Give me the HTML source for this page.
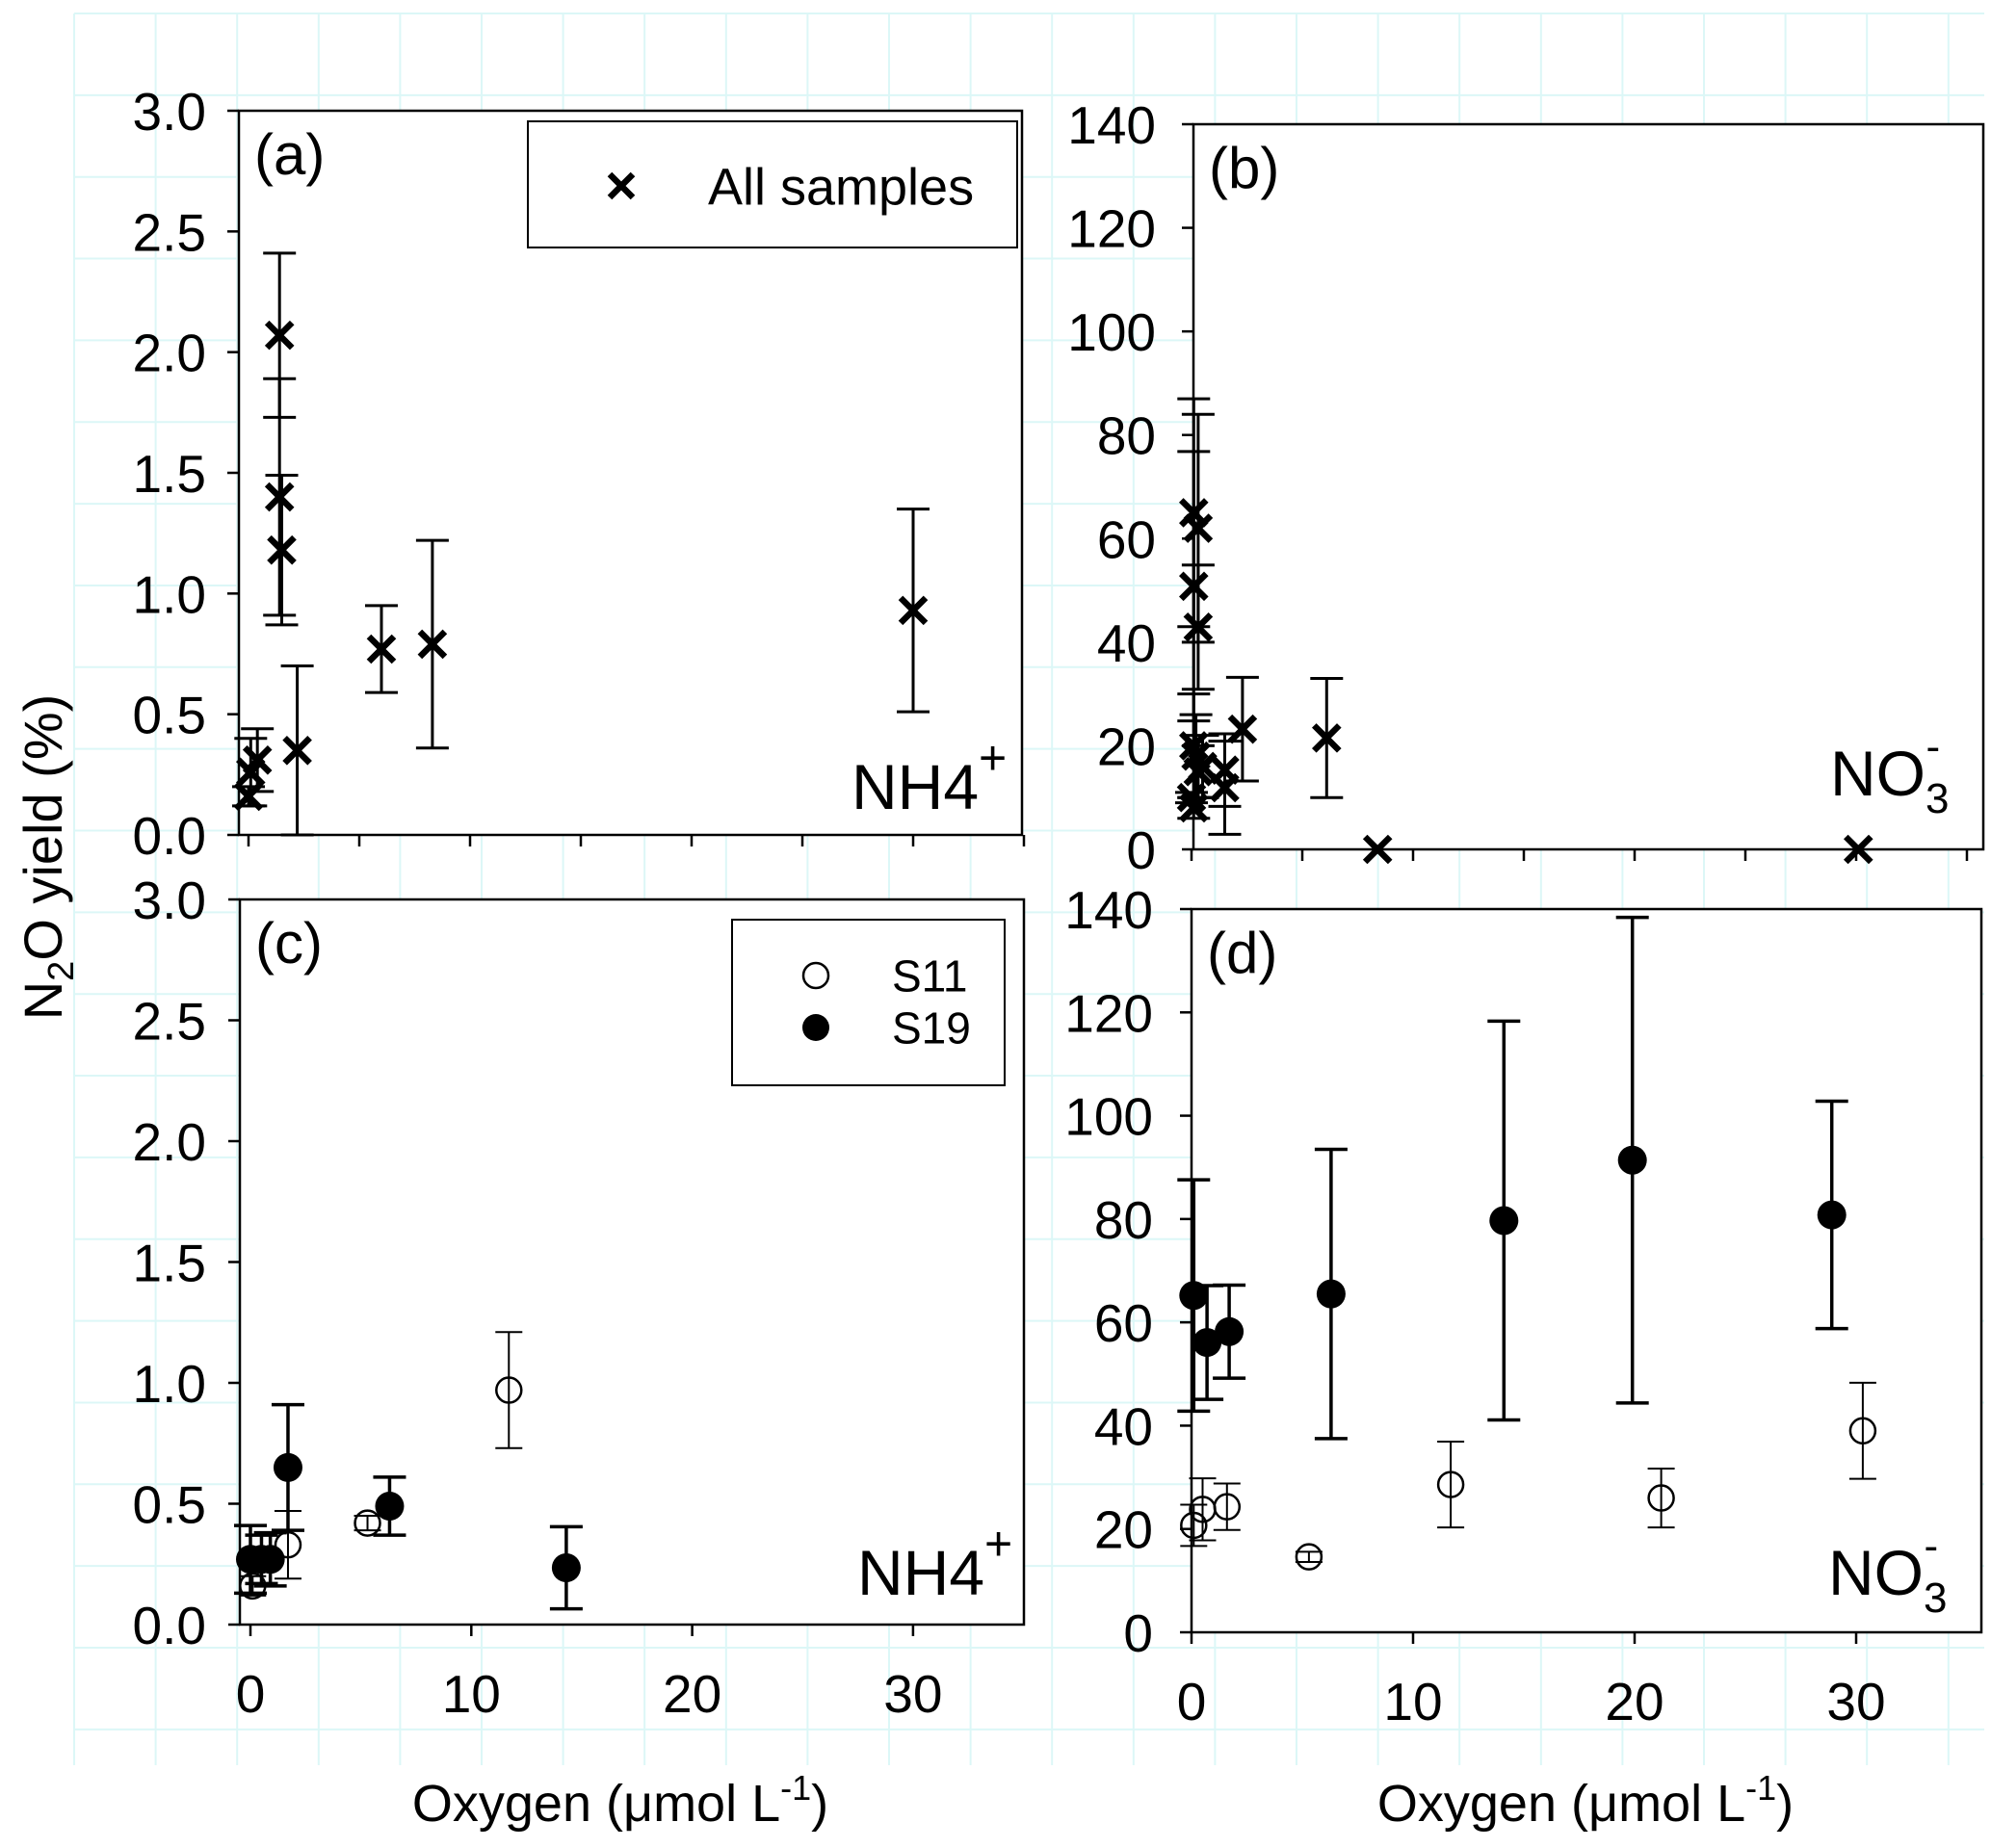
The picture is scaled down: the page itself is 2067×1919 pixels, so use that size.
<!DOCTYPE html>
<html><head><meta charset="utf-8">
<style>
html,body{margin:0;padding:0;background:#fff;}
svg{display:block;font-family:"Liberation Sans",Arial,sans-serif;}
</style></head>
<body>
<svg id="fig" width="2067" height="1919" viewBox="0 0 2067 1919" xmlns="http://www.w3.org/2000/svg">
<g id="grid"></g>
<text transform="translate(64,890) rotate(-90)" text-anchor="middle" font-size="56">N<tspan font-size="38" dy="12">2</tspan><tspan dy="-12">O yield (%)</tspan></text>
<text x="644" y="1891" text-anchor="middle" font-size="54">Oxygen (μmol L<tspan font-size="36" dy="-22">-1</tspan><tspan dy="22">)</tspan></text>
<text x="1646" y="1891" text-anchor="middle" font-size="54">Oxygen (μmol L<tspan font-size="36" dy="-22">-1</tspan><tspan dy="22">)</tspan></text>
</svg>
<script>
// Panel (a): NH4+ all samples
const aX = [0.0, 0.1, 0.4, 1.4, 1.4, 1.5, 2.2, 6.0, 8.3, 30.0];
const aY = [0.16, 0.26, 0.31, 2.07, 1.40, 1.18, 0.35, 0.77, 0.79, 0.93];
const aE = [0.04, 0.14, 0.13, 0.34, 0.49, 0.31, 0.35, 0.18, 0.43, 0.42];
// Panel (b): NO3- all samples
const bX = [0.1, 0.3, 0.1, 0.3, 0.1, 0.2, 0.3, 0.0, 0.1, 0.5, 1.5, 1.5, 2.3, 6.1, 8.4, 30.1];
const bY = [65, 62, 50.8, 42.9, 20, 18, 15, 10, 8, 16, 15.3, 11.9, 23.2, 21.5, 0, 0];
const bE = [22, 22, 26, 12, 10, 8, 5, 1, 2, 6, 7, 9, 10, 11.5, 0, 0];
// Panel (c): NH4+ S11 / S19
const cS11X = [0.1, 1.7, 5.3, 11.7];
const cS11Y = [0.16, 0.33, 0.42, 0.97];
const cS11E = [0.04, 0.14, 0.03, 0.24];
const cS19X = [0.0, 0.5, 0.9, 1.7, 6.3, 14.3];
const cS19Y = [0.27, 0.27, 0.27, 0.65, 0.49, 0.235];
const cS19E = [0.14, 0.10, 0.11, 0.26, 0.12, 0.17];
// Panel (d): NO3- S11 / S19
const dS11X = [0.1, 0.5, 1.6, 5.3, 11.7, 21.2, 30.3];
const dS11Y = [20.7, 23.8, 24.3, 14.6, 28.6, 26, 39];
const dS11E = [4, 6, 4.5, 1, 8.3, 5.7, 9.3];
const dS19X = [0.1, 0.7, 1.7, 6.3, 14.1, 19.9, 28.9];
const dS19Y = [65.2, 56.1, 58.2, 65.5, 79.7, 91.4, 80.8];
const dS19E = [22.4, 11, 9, 28, 38.6, 47, 22];
// Tick labels
const nh4Ticks = ["0.0","0.5","1.0","1.5","2.0","2.5","3.0"];
const no3Ticks = ["0","20","40","60","80","100","120","140"];
const xTicks = ["0","10","20","30"];

const NS = "http://www.w3.org/2000/svg";
const svg = document.getElementById('fig');
function mk(tag, attrs, parent){
  const e = document.createElementNS(NS, tag);
  for (const k in attrs) e.setAttribute(k, attrs[k]);
  (parent||svg).appendChild(e);
  return e;
}

const grid = document.getElementById('grid');
for (let x = 77; x < 2060; x += 84.6) {
  const l = mk('line', {x1:x, y1:14, x2:x, y2:1833, stroke:'#dcf7f7', 'stroke-width':2}, grid);
  
  
}
for (let y = 14; y < 1840; y += 84.85) {
  const l = mk('line', {x1:77, y1:y, x2:2060, y2:y, stroke:'#dcf7f7', 'stroke-width':2}, grid);
  
  
}

function panel(cfg){
  const g = mk('g', {});
  
  
  const sx = v => cfg.x0 + v * cfg.kx;
  const sy = v => cfg.y0 - v * (cfg.y0 - cfg.yTop) / cfg.yMax;
  const box = mk('rect', {x:cfg.left, y:cfg.yTop, width:cfg.right-cfg.left, height:cfg.y0-cfg.yTop, fill:'#fff', stroke:'#000', 'stroke-width':2.5}, g);
  
  
  cfg.yTicks.forEach((t, i) => {
    const v = i * cfg.yMax / (cfg.yTicks.length - 1);
    const y = sy(v);
    const tk = mk('line', {x1:cfg.left-12, y1:y, x2:cfg.left, y2:y, stroke:'#000', 'stroke-width':2.5}, g);
    
    
    const tx = mk('text', {x:cfg.labelRight, y:y+20, 'text-anchor':'end', 'font-size':55}, g);
    tx.textContent = t;
    
    
  });
  for (let v = 0; v <= 35; v += cfg.xStep) {
    const x = sx(v);
    if (x > cfg.right + 2) break;
    const tk = mk('line', {x1:x, y1:cfg.y0, x2:x, y2:cfg.y0+12, stroke:'#000', 'stroke-width':2.5}, g);
    
    
  }
  if (cfg.xLabels) {
    xTicks.forEach(t => {
      const tx = mk('text', {x:sx(+t), y:cfg.xLabelY, 'text-anchor':'middle', 'font-size':55}, g);
      tx.textContent = t;
      
      
    });
  }
  const pl = mk('text', {x:cfg.left+16, y:cfg.yTop+66, 'font-size':60}, g);
  pl.textContent = cfg.letter;
  
  
  const sp = mk('text', {x:cfg.spX, y:cfg.spY, 'font-size':66}, g);
  
  
  if (cfg.species === 'NH4') {
    sp.innerHTML = 'NH4<tspan font-size="50" dy="-36">+</tspan>';
  } else {
    sp.innerHTML = 'NO<tspan font-size="44" dy="18">3</tspan><tspan font-size="44" dy="-54" dx="-24">-</tspan>';
  }
  cfg.series.forEach(s => {
    const sg = mk('g', {}, g);
    
    
    s.X.forEach((xv, i) => {
      const cx = sx(xv), cy = sy(s.Y[i]), e = s.E[i];
      if (e > 0) {
        const yt = sy(s.Y[i] + e), yb = sy(Math.max(0, s.Y[i] - e));
        const eb = mk('path', {d:`M${cx},${yt}V${yb}M${cx-s.cap},${yt}H${cx+s.cap}M${cx-s.cap},${yb}H${cx+s.cap}`, stroke:'#000', 'stroke-width':s.ew, fill:'none'}, sg);
        
        
      }
      let m;
      if (s.marker === 'x') {
        const r = 13;
        m = mk('path', {d:`M${cx-r},${cy-r}L${cx+r},${cy+r}M${cx-r},${cy+r}L${cx+r},${cy-r}`, stroke:'#000', 'stroke-width':6.5, fill:'none'}, sg);
      } else if (s.marker === 'filled') {
        m = mk('circle', {cx:cx, cy:cy, r:15, fill:'#000'}, sg);
      } else {
        m = mk('circle', {cx:cx, cy:cy, r:13, fill:'none', stroke:'#000', 'stroke-width':2.5}, sg);
      }
      
      
    });
  });
  return g;
}

panel({name:'panel-a', letter:'(a)', left:248, right:1061, x0:258, kx:23, y0:867, yTop:115, yMax:3,
  yTicks:nh4Ticks, labelRight:214, xStep:5, xLabels:false, species:'NH4', spX:884, spY:840,
  series:[{name:'series-all-samples', X:aX, Y:aY, E:aE, marker:'x', cap:17, ew:3}]});
panel({name:'panel-b', letter:'(b)', left:1239, right:2059, x0:1237, kx:23.0, y0:882, yTop:129, yMax:140,
  yTicks:no3Ticks, labelRight:1200, xStep:5, xLabels:false, species:'NO3', spX:1900, spY:826,
  series:[{name:'series-all-samples', X:bX, Y:bY, E:bE, marker:'x', cap:17, ew:3}]});
panel({name:'panel-c', letter:'(c)', left:249, right:1063, x0:260, kx:22.93, y0:1687, yTop:934, yMax:3,
  yTicks:nh4Ticks, labelRight:214, xStep:10, xLabels:true, xLabelY:1778, species:'NH4', spX:890, spY:1656,
  series:[{name:'series-s11', X:cS11X, Y:cS11Y, E:cS11E, marker:'open', cap:14, ew:2},
          {name:'series-s19', X:cS19X, Y:cS19Y, E:cS19E, marker:'filled', cap:17, ew:3.5}]});
panel({name:'panel-d', letter:'(d)', left:1237, right:2057, x0:1237, kx:23.0, y0:1695, yTop:944, yMax:140,
  yTicks:no3Ticks, labelRight:1197, xStep:10, xLabels:true, xLabelY:1786, species:'NO3', spX:1898, spY:1656,
  series:[{name:'series-s11', X:dS11X, Y:dS11Y, E:dS11E, marker:'open', cap:14, ew:2},
          {name:'series-s19', X:dS19X, Y:dS19Y, E:dS19E, marker:'filled', cap:17, ew:3.5}]});

function legend(name, x, y, w, h, entries){
  const g = mk('g', {});
  
  
  mk('rect', {x:x, y:y, width:w, height:h, fill:'#fff', stroke:'#000', 'stroke-width':2}, g);
  entries.forEach(en => {
    let m;
    if (en.marker === 'x') {
      const r = 12, cx = en.mx, cy = en.my;
      m = mk('path', {d:`M${cx-r},${cy-r}L${cx+r},${cy+r}M${cx-r},${cy+r}L${cx+r},${cy-r}`, stroke:'#000', 'stroke-width':6.5}, g);
    } else if (en.marker === 'filled') {
      m = mk('circle', {cx:en.mx, cy:en.my, r:14, fill:'#000'}, g);
    } else {
      m = mk('circle', {cx:en.mx, cy:en.my, r:13, fill:'none', stroke:'#000', 'stroke-width':2.5}, g);
    }
    
    
    const t = mk('text', {x:en.tx, y:en.my+en.fs*0.36, 'font-size':en.fs}, g);
    t.textContent = en.label;
    
    
  });
}
legend('legend-a', 548, 126, 508, 131, [{marker:'x', mx:645, my:193, tx:735, fs:54, label:'All samples'}]);
legend('legend-c', 760, 955, 283, 172, [
  {marker:'open', mx:847, my:1013, tx:926, fs:46, label:'S11'},
  {marker:'filled', mx:847, my:1067, tx:926, fs:46, label:'S19'}]);
</script>
</body></html>
